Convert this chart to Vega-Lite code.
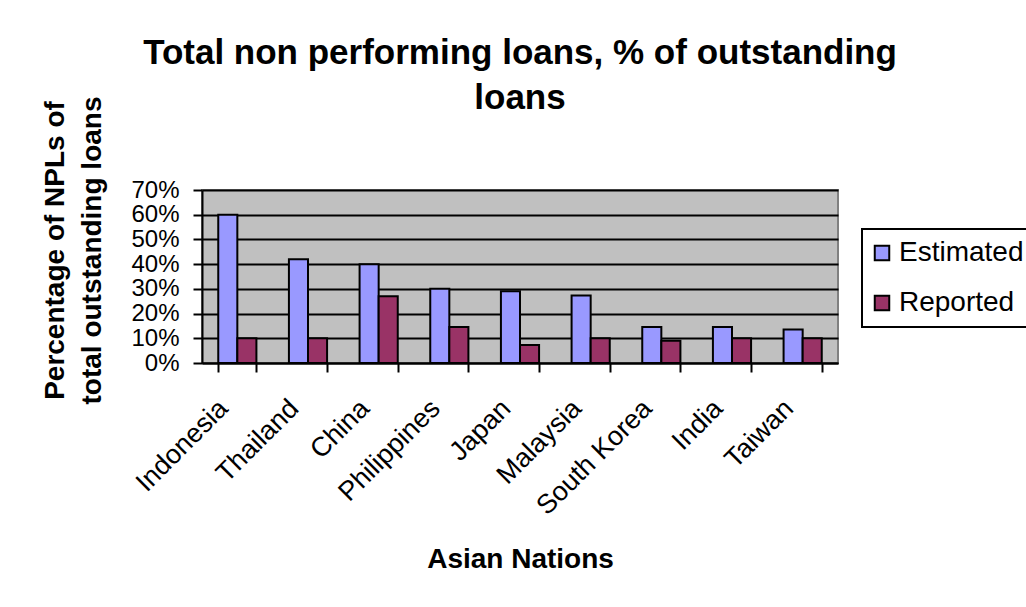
{
  "$schema": "https://vega.github.io/schema/vega-lite/v6.json",
  "autosize": "none",
  "width": 636,
  "height": 173,
  "padding": {"left": 202, "top": 190, "right": 188, "bottom": 244},
  "background": "white",
  "title": {
    "text": ["Total non performing loans, % of outstanding", "loans"],
    "font": "Liberation Sans",
    "fontSize": 35,
    "fontWeight": "bold",
    "lineHeight": 45,
    "color": "black",
    "anchor": "middle",
    "offset": -20
  },
  "data": {
    "values": [
      {"country": "Indonesia", "series": "Estimated", "value": 0.60},
      {"country": "Indonesia", "series": "Reported", "value": 0.10},
      {"country": "Thailand", "series": "Estimated", "value": 0.42},
      {"country": "Thailand", "series": "Reported", "value": 0.10},
      {"country": "China", "series": "Estimated", "value": 0.40},
      {"country": "China", "series": "Reported", "value": 0.27},
      {"country": "Philippines", "series": "Estimated", "value": 0.30},
      {"country": "Philippines", "series": "Reported", "value": 0.146},
      {"country": "Japan", "series": "Estimated", "value": 0.29},
      {"country": "Japan", "series": "Reported", "value": 0.073},
      {"country": "Malaysia", "series": "Estimated", "value": 0.273},
      {"country": "Malaysia", "series": "Reported", "value": 0.10},
      {"country": "South Korea", "series": "Estimated", "value": 0.146},
      {"country": "South Korea", "series": "Reported", "value": 0.09},
      {"country": "India", "series": "Estimated", "value": 0.146},
      {"country": "India", "series": "Reported", "value": 0.10},
      {"country": "Taiwan", "series": "Estimated", "value": 0.136},
      {"country": "Taiwan", "series": "Reported", "value": 0.10}
    ]
  },
  "mark": {"type": "bar", "stroke": "black", "strokeWidth": 2},
  "encoding": {
    "x": {
      "field": "country",
      "type": "nominal",
      "sort": ["Indonesia", "Thailand", "China", "Philippines", "Japan", "Malaysia", "South Korea", "India", "Taiwan"],
      "scale": {"paddingInner": 0.46, "paddingOuter": 0.23},
      "axis": {
        "title": "Asian Nations",
        "labelAngle": -45,
        "labelAlign": "right",
        "labelBaseline": "middle",
        "labelFontSize": 27,
        "labelPadding": 32,
        "labelOffset": -14,
        "labelOverlap": false,
        "tickBand": "extent",
        "tickSize": 9,
        "tickWidth": 2,
        "titleFontSize": 28,
        "titlePadding": 26
      }
    },
    "xOffset": {"field": "series", "type": "nominal"},
    "y": {
      "field": "value",
      "type": "quantitative",
      "scale": {"domain": [0, 0.7], "nice": false},
      "axis": {
        "title": ["Percentage of NPLs of", "total outstanding loans"],
        "format": "%",
        "values": [0, 0.1, 0.2, 0.3, 0.4, 0.5, 0.6, 0.7],
        "labelFontSize": 24,
        "labelOverlap": false,
        "labelPadding": 14,
        "tickSize": 9,
        "tickWidth": 2,
        "grid": true,
        "gridColor": "black",
        "gridWidth": 2,
        "gridOpacity": 1,
        "titleFontSize": 28,
        "titleLineHeight": 37,
        "titlePadding": 24,
        "titleY": 60,
        "titleAlign": "center"
      }
    },
    "color": {
      "field": "series",
      "type": "nominal",
      "scale": {"domain": ["Estimated", "Reported"], "range": ["#9999FF", "#993366"]},
      "legend": {
        "title": null,
        "orient": "none",
        "legendX": 660,
        "legendY": 39,
        "labelFontSize": 28,
        "symbolType": "square",
        "symbolSize": 210,
        "symbolOffset": -4,
        "symbolStrokeColor": "black",
        "symbolStrokeWidth": 2,
        "strokeColor": "black",
        "fillColor": "white",
        "padding": 10,
        "rowPadding": 22,
        "labelOffset": 3
      }
    }
  },
  "config": {
    "font": "Liberation Sans",
    "view": {"fill": "#C0C0C0", "stroke": "#808080", "strokeWidth": 2},
    "axis": {
      "labelColor": "black",
      "labelFont": "Liberation Sans",
      "titleFont": "Liberation Sans",
      "titleFontWeight": "bold",
      "titleColor": "black",
      "domainColor": "black",
      "domainWidth": 2,
      "tickColor": "black"
    },
    "legend": {"labelColor": "black", "labelFont": "Liberation Sans", "strokeWidth": 2}
  }
}
